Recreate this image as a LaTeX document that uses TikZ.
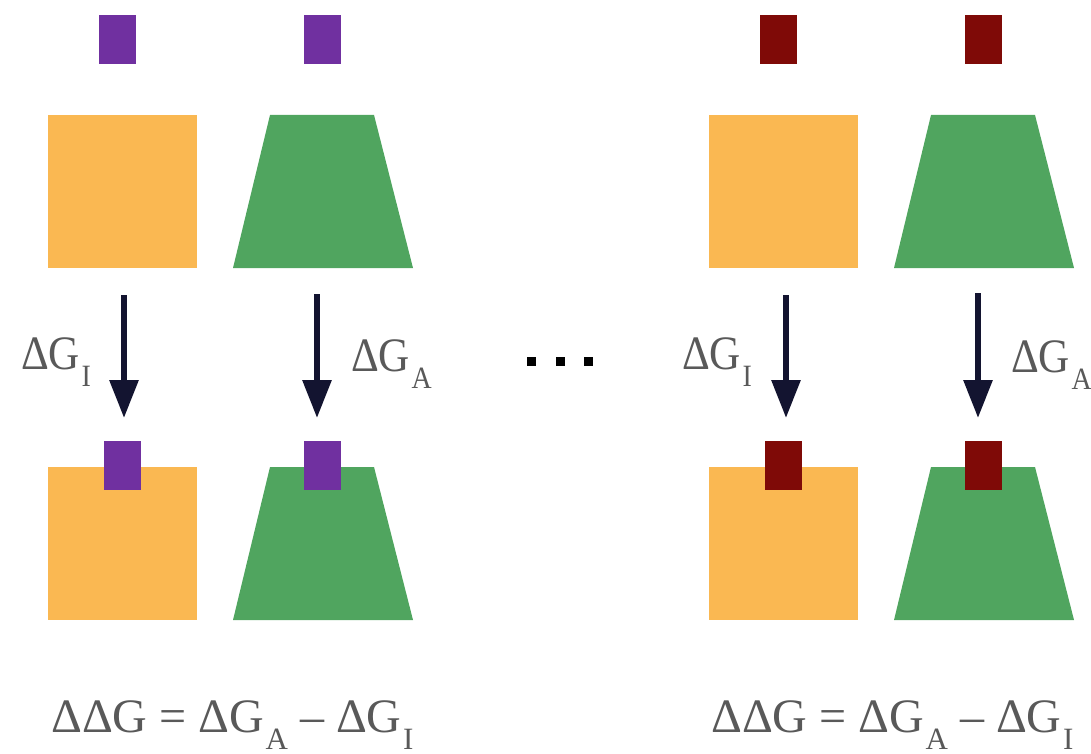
\documentclass[tikz,border=0pt]{standalone}
\usepackage{fontspec}
\setmainfont{Liberation Serif}
\usetikzlibrary{arrows.meta}
\definecolor{orng}{HTML}{FAB852}
\definecolor{grn}{HTML}{50A55F}
\definecolor{purp}{HTML}{7030A0}
\definecolor{dred}{HTML}{7F0A07}
\definecolor{navy}{HTML}{131430}
\definecolor{txtgray}{HTML}{595959}
\newcommand{\dGs}[1]{ΔG\kern1.5pt\raisebox{-17pt}{\fontsize{31}{33}\selectfont #1}}
\newcommand{\narrow}[1]{\scalebox{0.9}[1]{#1}}
\tikzset{
  lbl/.style={inner sep=0pt, anchor=base west, text=txtgray, font=\fontsize{48}{52}\selectfont},
  rxn/.style={draw=navy, line width=6pt, -{Triangle[width=28pt,length=38pt]}},
  dot/.style={fill=black, minimum size=9pt, inner sep=0pt}
}
\begin{document}
\begin{tikzpicture}[x=1pt,y=-1pt]
\useasboundingbox (0,0) rectangle (1091,754);
% ---- top row
\foreach \dx/\lc in {0/purp, 661/dred}{
  \fill[\lc] (99+\dx,15) rectangle (136+\dx,64);
  \fill[\lc] (304+\dx,15) rectangle (341+\dx,64);
  \fill[orng] (48+\dx,115) rectangle (197+\dx,268);
  \fill[grn] (270+\dx,115) -- (374+\dx,115) -- (413+\dx,268) -- (233+\dx,268) -- cycle;
  % bottom row
  \fill[orng] (48+\dx,467) rectangle (197+\dx,620);
  \fill[grn] (270+\dx,467) -- (374+\dx,467) -- (413+\dx,620) -- (233+\dx,620) -- cycle;
  \fill[\lc] (104+\dx,441) rectangle (141+\dx,490);
  \fill[\lc] (304+\dx,441) rectangle (341+\dx,490);
}
% arrows
\coordinate (a1s) at (124,295); \coordinate (a1e) at (124,418);
\coordinate (a2s) at (317,294); \coordinate (a2e) at (317,418);
\coordinate (a3s) at (786,295); \coordinate (a3e) at (786,418);
\coordinate (a4s) at (978,293); \coordinate (a4e) at (978,418);
\draw[rxn] (a1s) -- (a1e);
\draw[rxn] (a2s) -- (a2e);
\draw[rxn] (a3s) -- (a3e);
\draw[rxn] (a4s) -- (a4e);
% labels
\node[lbl] (l1) at (21,369) {\narrow{\dGs{I}}};
\node[lbl] (l2) at (351,371) {\narrow{\dGs{A}}};
\node[lbl] (l3) at (682,369) {\narrow{\dGs{I}}};
\node[lbl] (l4) at (1011,372) {\narrow{\dGs{A}}};
% dots
\node[dot] (d1) at (531.5,361.5) {};
\node[dot] (d2) at (560.5,361.5) {};
\node[dot] (d3) at (588.5,361.5) {};
% equations
\node[lbl] (e1) at (51,732) {ΔΔG = \dGs{A} – \dGs{I}};
\node[lbl] (e2) at (711,732) {ΔΔG = \dGs{A} – \dGs{I}};
\end{tikzpicture}
\end{document}
